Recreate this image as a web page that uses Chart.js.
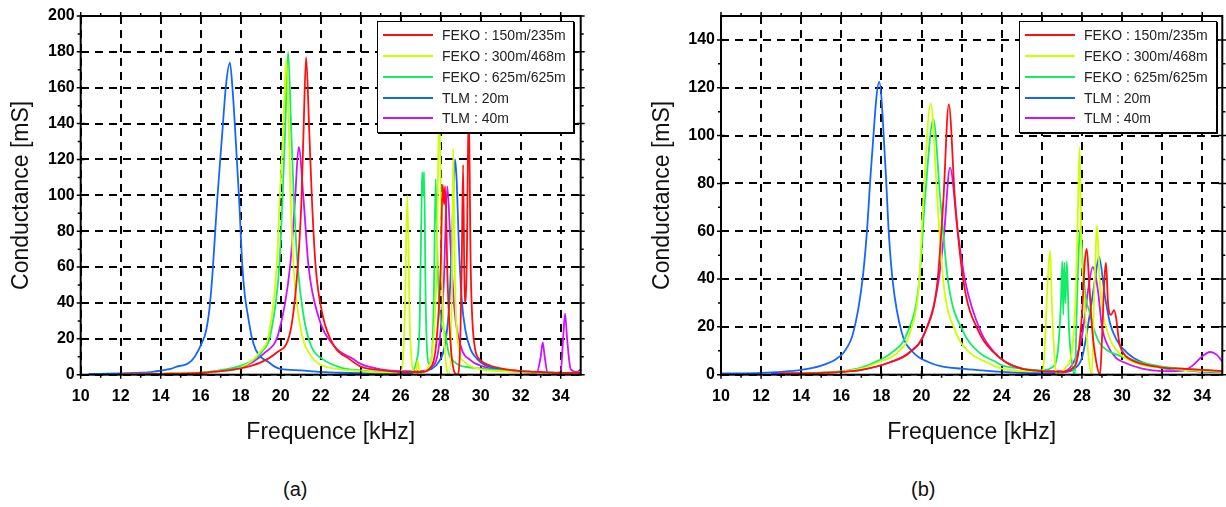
<!DOCTYPE html>
<html>
<head>
<meta charset="utf-8">
<script src="https://cdn.jsdelivr.net/npm/chart.js@4.4.0/dist/chart.umd.min.js"></script>
<style>
  body { margin: 0; background: #fff; width: 1226px; height: 507px; position: relative; overflow: hidden;
         font-family: "Liberation Sans", Arial, sans-serif; }
  canvas { position: absolute; top: 0; }
  #chartA { left: 0; }
  #chartB { left: 620px; }
  .legend { position: absolute; top: 21px; height: 112px; background: #fff; border: 1.5px solid #000;
            box-shadow: 1px 1px 0 #000; box-sizing: border-box; padding-top: 3px; font-size: 14px; color: #222; }
  .legend div { height: 20.75px; display: flex; align-items: center; white-space: nowrap; }
  .legend i { display: inline-block; width: 50px; height: 2px; margin: 0 9px 0 5px; }
  .caption { position: absolute; top: 478px; font-size: 20px; color: #111; }
</style>
</head>
<body>
<canvas id="chartA" width="600" height="460"></canvas>
<canvas id="chartB" width="606" height="460"></canvas>
<div class="legend" id="legendA" style="left:377px; width:197px;"></div>
<div class="legend" id="legendB" style="left:1019px; width:198px;"></div>
<div class="caption" style="left:283px;">(a)</div>
<div class="caption" style="left:911px;">(b)</div>

<script>
/* LABELS */
const seriesNames = ["FEKO : 150m/235m", "FEKO : 300m/468m", "FEKO : 625m/625m", "TLM : 20m", "TLM : 40m"];
const seriesColors = ["#ff1010", "#ccff00", "#11ee66", "#1466ff", "#cc11ff"];
const xTitle = "Frequence [kHz]";
const yTitle = "Conductance [mS]";

/* TICKS */
const xTicks = [10, 12, 14, 16, 18, 20, 22, 24, 26, 28, 30, 32, 34];
const yTicksA = [0, 20, 40, 60, 80, 100, 120, 140, 160, 180, 200];
const yTicksB = [0, 20, 40, 60, 80, 100, 120, 140];

/* PANEL (a) : [frequency kHz, conductance mS] */
const a_feko150 = [[12,0.3],[14,0.5],[16,1],[17,2],[18,3.5],[19.03,7],[19.8,12.4],[20.47,23.5],[20.85,60],[21.04,98],
  [21.14,135],[21.27,177],[21.43,135],[21.56,98],[21.75,60],[22.1,33],[22.67,16],[23.44,8.7],[24,4.5],[25,2.5],[26,1.5],
  [27,1.5],[27.5,4],[27.8,20],[28,60],[28.1,106],[28.17,95],[28.22,105],[28.35,50],[28.55,10],[28.83,0],[28.95,10],
  [29.05,60],[29.12,117],[29.2,40],[29.3,60],[29.4,150],[29.5,60],[29.65,20],[30,8],[30.5,5],[31,3.5],[32,2],[33,1.5],[34,1],[35,1]];
const a_feko300 = [[12,0.3],[14,0.6],[16,1.2],[17,2],[18,4],[18.94,12.4],[19.42,23.5],[19.8,60.6],[19.95,98],[20.12,135],
  [20.28,176],[20.41,135],[20.5,98],[20.64,60.6],[21.04,23.5],[21.52,10.5],[22,5.5],[23,3],[24,2],[25,1.3],[26,1.5],
  [26.2,30],[26.33,100],[26.45,30],[26.6,3],[26.75,0.5],[26.85,8],[26.95,0.5],[27.3,3],[27.6,15],[27.8,60],[27.93,150],
  [28.05,60],[28.2,15],[28.43,0],[28.55,40],[28.63,126],[28.72,50],[28.9,15],[29.2,7],[30,3],[31,2],[32,1.5],[34,1],[35,1]];
const a_feko625 = [[12,0.3],[14,0.5],[16,1.2],[17,2.5],[18.46,7],[19.03,12.4],[19.51,23.5],[19.93,60.6],[20.09,98],
  [20.22,135],[20.37,180],[20.53,135],[20.66,98],[20.85,60.6],[21.14,33],[21.52,16],[22.1,8.7],[23,4],[24,2.4],[25,1.5],
  [26,1.2],[26.5,2],[26.8,8],[26.95,30],[27.05,100],[27.08,113],[27.12,100],[27.17,113],[27.25,40],[27.4,6],[27.55,10],
  [27.65,40],[27.75,109],[27.85,60],[28,30],[28.2,24],[28.4,12],[28.7,7],[29,5],[29.5,4],[30,3.5],[31,2.5],[32,2],[33,1.5],[34,1.2],[35,1.2]];
const a_tlm20 = [[10.4,0.4],[11,0.5],[12,0.7],[13,1.1],[13.6,1.6],[14,2.3],[14.5,3.2],[14.8,4.5],[15.1,5.2],[15.4,6.5],
  [15.7,10],[16.07,18],[16.26,24],[16.45,38],[16.6,58],[16.83,98],[17.08,135],[17.27,162],[17.46,174],[17.6,158],[17.73,135],
  [17.92,98],[18.08,61],[18.2,45],[18.36,33],[18.55,21],[18.75,14],[19,10],[19.4,7],[19.7,4.5],[20,3.2],[21,2.4],[22,1.6],
  [23,1.1],[24,0.8],[25,0.7],[26,0.8],[27,1.5],[27.5,3],[27.9,7],[28.2,16],[28.4,35],[28.55,70],[28.65,105],[28.72,120],
  [28.8,108],[28.9,75],[29.05,42],[29.25,24],[29.5,14],[29.8,9],[30.2,5.5],[31,3],[32,2],[33,1.3],[34,1],[35,0.8]];
const a_tlm40 = [[12,0.3],[14,0.5],[16,1],[17,2],[18,4],[19.22,12.4],[19.9,23.5],[20.47,60.6],[20.72,98],[20.9,127],
  [21.14,98],[21.39,60.6],[21.87,33],[22.67,16],[23.63,8.7],[24,6],[25,3],[26,2],[27,2],[27.5,4],[27.9,15],[28.15,50],
  [28.33,105],[28.5,70],[28.7,35],[29,16],[29.5,8],[30,5],[31,2.5],[32,1.5],[32.8,1],[33,10],[33.1,18],[33.2,10],
  [33.35,1],[34,1.5],[34.12,20],[34.22,34],[34.32,20],[34.5,3],[34.8,1.5],[35,3]];

/* PANEL (b) : [frequency kHz, conductance mS] */
const b_feko150 = [[13,0.5],[15,0.8],[16,1.2],[17,2],[18.43,5.2],[19.4,9.3],[20.17,17.7],[20.79,38.6],[21.09,73],
  [21.36,113],[21.67,73],[22.1,38.6],[22.87,17.7],[23.6,9.3],[24.2,5.2],[25,2.5],[26,1.5],[27,1.2],[27.5,2.5],[27.8,8],
  [28,25],[28.15,48],[28.24,52.6],[28.35,40],[28.5,20],[28.7,6],[28.9,0],[29,15],[29.12,40],[29.2,46.7],[29.3,30],
  [29.45,25],[29.6,27],[29.7,24],[29.85,14],[30,10],[30.5,6],[31,4.5],[32,3],[33,2.5],[34,2],[35,1.5]];
const b_feko300 = [[14,0.6],[16,1.3],[17,2.5],[17.85,5.2],[18.82,9.3],[19.43,17.7],[19.88,38.6],[20.09,73],[20.46,113.5],
  [20.79,73],[21.09,38.6],[21.71,17.7],[22.39,9.3],[23.25,5.2],[24,2.5],[25,1.5],[26,1.5],[26.1,5],[26.3,40],[26.41,52],
  [26.5,30],[26.65,5],[26.8,0],[26.95,1],[27.2,3],[27.5,10],[27.7,35],[27.83,80],[27.89,95],[27.95,60],[28.1,35],[28.3,10],
  [28.49,0],[28.6,30],[28.7,55],[28.75,62.4],[28.85,45],[29,28],[29.2,20],[29.5,13],[30,8],[31,4],[32,3],[33,2],[34,1.5],[35,1.2]];
const b_feko625 = [[15,0.9],[16,1.5],[17,3],[17.85,5.9],[18.53,9.3],[19.3,17.7],[19.88,38.6],[20.17,73],[20.59,106.8],
  [20.94,73],[21.33,38.6],[22.1,17.7],[22.87,9.3],[23.74,5.2],[24,4],[25,2.5],[26,1.8],[26.5,3],[26.8,10],[26.95,30],
  [27.02,47.4],[27.07,25],[27.12,47],[27.18,30],[27.25,47.4],[27.35,20],[27.5,5],[27.65,0],[27.75,30],[27.87,57],
  [27.94,60.7],[28.05,45],[28.2,32],[28.4,25.7],[28.6,19],[28.9,13],[29.3,10],[29.7,8.5],[30,7.6],[31,5],[32,3.4],
  [33,2.5],[34,2],[35,1.5]];
const b_tlm20 = [[10,0.5],[12,0.8],[13,1.2],[14,2],[15,3.8],[15.73,6.5],[16.12,9.3],[16.6,17.7],[17.04,38.6],[17.27,59],
  [17.49,87],[17.89,122.4],[18.2,87],[18.37,59],[18.57,38.6],[19.01,17.7],[19.59,9.3],[20.36,5.2],[21,3.5],[22,2.5],
  [23,1.8],[24,1.2],[25,0.8],[26,0.6],[27,1],[27.66,2.7],[28.02,7.6],[28.4,25.7],[28.65,39.7],[28.85,49.3],[29.15,32.7],
  [29.4,21.5],[29.73,14.6],[30.03,11],[30.6,6.9],[32,2.7],[33,2],[34,1.3],[35,1]];
const b_tlm40 = [[12.5,0.5],[14,0.6],[16,1.2],[17,2],[18.43,5.2],[19.4,9.3],[20.17,17.7],[20.84,38.6],[21.13,59.5],
  [21.42,86.6],[21.81,59.5],[22.19,38.6],[22.97,17.7],[23.64,9.3],[24.22,5.2],[25,2.5],[26,1.5],[27,1.5],[27.5,4],[28,16],
  [28.3,35],[28.54,45],[28.8,35],[29,20],[29.3,12],[29.7,7],[30,5.5],[31,2.5],[32,1.5],[32.5,1.5],[33.06,1.7],[33.56,4.1],
  [33.99,7.6],[34.39,9.5],[34.7,8.5],[35,5.5]];

const panelA = [a_feko150, a_feko300, a_feko625, a_tlm20, a_tlm40];
const panelB = [b_feko150, b_feko300, b_feko625, b_tlm20, b_tlm40];

/* FRAME, MAJOR AND MINOR TICKS */
const frameTicks = {
    id: 'frameTicks',
    afterDatasetsDraw(chart) {
        const { ctx, chartArea: a, scales: { x, y } } = chart;
        ctx.save();
        ctx.strokeStyle = '#000';
        ctx.lineWidth = 2;
        ctx.strokeRect(a.left, a.top, a.right - a.left, a.bottom - a.top);

        ctx.lineWidth = 1.5;
        ctx.beginPath();
        x.ticks.forEach(t => {
            const px = x.getPixelForValue(t.value);
            ctx.moveTo(px, a.bottom - 4); ctx.lineTo(px, a.bottom + 4);
            ctx.moveTo(px, a.top - 4); ctx.lineTo(px, a.top + 4);
        });
        y.ticks.forEach(t => {
            const py = y.getPixelForValue(t.value);
            ctx.moveTo(a.left - 4, py); ctx.lineTo(a.left + 4, py);
            ctx.moveTo(a.right - 4, py); ctx.lineTo(a.right + 4, py);
        });
        for (let v = x.min + 1; v < x.max; v += 2) {
            const px = x.getPixelForValue(v);
            ctx.moveTo(px, a.bottom); ctx.lineTo(px, a.bottom + 3);
            ctx.moveTo(px, a.top); ctx.lineTo(px, a.top - 3);
        }
        for (let v = y.min + 10; v < y.max; v += 20) {
            const py = y.getPixelForValue(v);
            ctx.moveTo(a.left, py); ctx.lineTo(a.left - 3, py);
            ctx.moveTo(a.right, py); ctx.lineTo(a.right + 3, py);
        }
        ctx.stroke();
        ctx.restore();
    }
};

function makePanel(id, data, yTicks, yMax, yAxisWidth, yTitlePad, padRight) {
    const ctx = document.getElementById(id).getContext('2d');
    return new Chart(ctx, {
        type: 'scatter',
        data: {
            datasets: data.map((pts, i) => ({
                label: seriesNames[i],
                data: pts.map(p => ({ x: p[0], y: p[1] })),
                showLine: true,
                borderColor: seriesColors[i],
                backgroundColor: seriesColors[i],
                borderWidth: 1.8,
                pointRadius: 0,
                cubicInterpolationMode: 'monotone'
            }))
        },
        options: {
            responsive: false,
            animation: false,
            devicePixelRatio: 1,
            layout: { padding: { left: 0, top: 16, right: padRight, bottom: 0 } },
            plugins: { legend: { display: false }, tooltip: { enabled: false } },
            scales: {
                x: {
                    type: 'linear', min: 10, max: 35,
                    afterBuildTicks: s => { s.ticks = xTicks.map(v => ({ value: v })); },
                    afterFit: s => { s.height = 85.3; },
                    grid: { color: '#000', lineWidth: 2, drawTicks: false },
                    border: { display: false, dash: [8, 6] },
                    ticks: { padding: 12, color: '#000', maxRotation: 0,
                             font: { family: 'Liberation Sans', size: 16, weight: 'bold' } },
                    title: { display: true, text: xTitle, color: '#111', padding: { top: 0, bottom: 14 },
                             font: { family: 'Liberation Sans', size: 23 } }
                },
                y: {
                    type: 'linear', min: 0, max: yMax,
                    afterBuildTicks: s => { s.ticks = yTicks.map(v => ({ value: v })); },
                    afterFit: s => { s.width = yAxisWidth; },
                    grid: { color: '#000', lineWidth: 2, drawTicks: false },
                    border: { display: false, dash: [8, 6] },
                    ticks: { padding: 6, color: '#000',
                             font: { family: 'Liberation Sans', size: 16, weight: 'bold' } },
                    title: { display: true, text: yTitle, color: '#111', padding: { top: yTitlePad, bottom: 0 },
                             font: { family: 'Liberation Sans', size: 23 } }
                }
            }
        },
        plugins: [frameTicks]
    });
}

/* LEGEND */
function fillLegend(id) {
    const box = document.getElementById(id);
    seriesNames.forEach((name, i) => {
        const row = document.createElement('div');
        row.innerHTML = `<i style="background:${seriesColors[i]}"></i>${name}`;
        box.appendChild(row);
    });
}

makePanel('chartA', panelA, yTicksA, 200, 80.7, 8, 19.3);
makePanel('chartB', panelB, yTicksB, 150, 101, 29, 3.7);
fillLegend('legendA');
fillLegend('legendB');
</script>
</body>
</html>
